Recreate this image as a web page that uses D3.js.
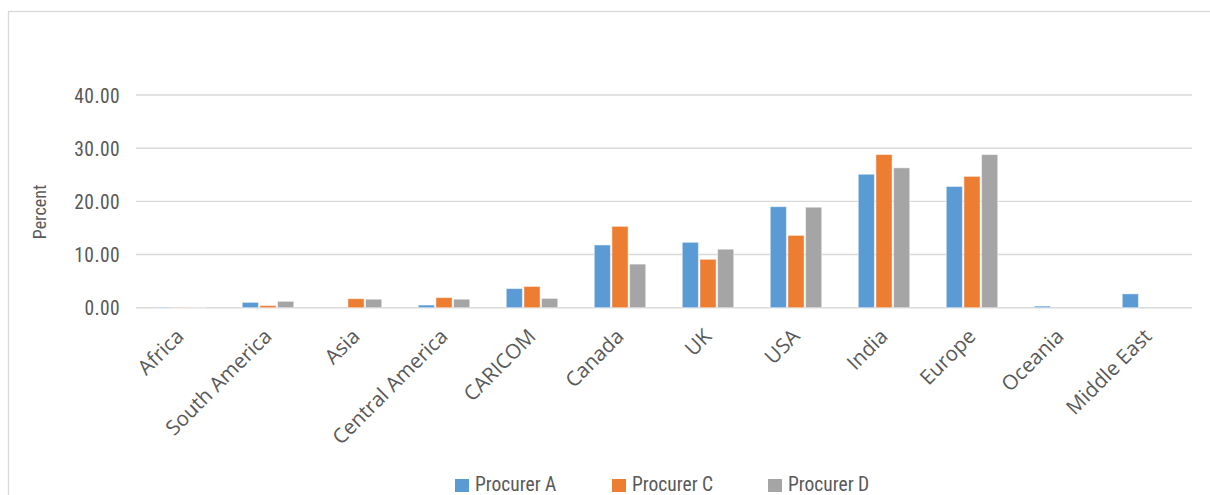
<!DOCTYPE html>
<html><head><meta charset="utf-8">
<script src="https://cdn.jsdelivr.net/npm/d3@7"></script>
<style>
html,body{margin:0;padding:0;background:#fff;}
svg{display:block;}
</style></head>
<body>
<svg id="chart" width="1210" height="495"></svg>
<script>
const categories = ["Africa","South America","Asia","Central America","CARICOM","Canada","UK","USA","India","Europe","Oceania","Middle East"];
const seriesNames = ["Procurer A","Procurer C","Procurer D"];
const procurerA = [0.1, 1.0, 0, 0.5, 3.6, 11.8, 12.3, 19.0, 25.1, 22.8, 0.3, 2.6];
const procurerC = [0.05, 0.4, 1.7, 1.9, 4.0, 15.3, 9.1, 13.6, 28.8, 24.7, 0, 0];
const procurerD = [0.05, 1.2, 1.6, 1.6, 1.75, 8.2, 11.0, 18.9, 26.3, 28.8, 0, 0];
const yTicks = [0, 10, 20, 30, 40];
const colors = ["#5b9bd5","#ed7d31","#a5a5a5"];

(function(){
const svg = d3.select("#chart");
const pLeft = 136, pRight = 1192, pTop = 95, pBottom = 307.7;
const series = [procurerA, procurerC, procurerD];
const condensed = "'Roboto Condensed',Roboto,sans-serif";

svg.append("rect").attr("x",8.5).attr("y",11.5).attr("width",1260).attr("height",500)
  .attr("fill","#fff").attr("stroke","#d9d9d9").attr("stroke-width",1.3);

const x = d3.scaleBand().domain(categories).range([pLeft,pRight]).paddingInner(0).paddingOuter(0);
const y = d3.scaleLinear().domain([0,40]).range([pBottom, pTop]);
const inner = d3.scaleBand().domain(d3.range(3)).range([-26.5, 26.5]).padding(0);

// gridlines
svg.append("g").selectAll("line").data(yTicks).join("line")
  .attr("x1",pLeft).attr("x2",pRight)
  .attr("y1",d=>y(d)).attr("y2",d=>y(d))
  .attr("stroke","#d9d9d9").attr("stroke-width",1.4);

// y axis labels
const yAxis = d3.axisLeft(y).tickValues(yTicks).tickFormat(d3.format(".2f")).tickSize(0).tickPadding(0);
const gy = svg.append("g").attr("transform",`translate(${pLeft-16},0)`).call(yAxis);
gy.select(".domain").remove();
gy.selectAll("text").attr("font-family",condensed)
  .attr("font-size",19.5).attr("letter-spacing","0.4px").attr("fill","#595959").attr("dy","0.36em");

// bars
categories.forEach((c,i)=>{
  series.forEach((s,j)=>{
    svg.append("rect")
      .attr("x", x(c) + x.bandwidth()/2 + inner(j) + 0.75)
      .attr("width", inner.bandwidth() - 1.5)
      .attr("y", y(s[i]))
      .attr("height", Math.max(0, y(0)-y(s[i])))
      .attr("fill", colors[j])
      .attr("stroke", "#fff").attr("stroke-opacity",0.5).attr("stroke-width",1);
  });
});

// x axis labels
const gx = svg.append("g");
gx.selectAll("text").data(categories).join("text")
  .attr("transform", d=>`translate(${x(d)+x.bandwidth()/2+5},${pBottom+30}) rotate(-45)`)
  .attr("text-anchor","end")
  .attr("font-family","'Open Sans',sans-serif").attr("font-size",20.5).attr("fill","#595959")
  .text(d=>d);

// y title
svg.append("text").attr("transform","translate(46,212) rotate(-90)")
  .attr("text-anchor","middle")
  .attr("font-family",condensed)
  .attr("font-size",18).attr("fill","#595959").text("Percent");

// legend
const legX = [455, 612, 768];
seriesNames.forEach((n,i)=>{
  svg.append("rect").attr("x",legX[i]).attr("y",479).attr("width",14).attr("height",13).attr("fill",colors[i]);
  svg.append("text").attr("x",legX[i]+20).attr("y",491)
    .attr("font-family",condensed)
    .attr("font-size",19.5).attr("fill","#595959").text(n);
});
})();
</script>
</body></html>
